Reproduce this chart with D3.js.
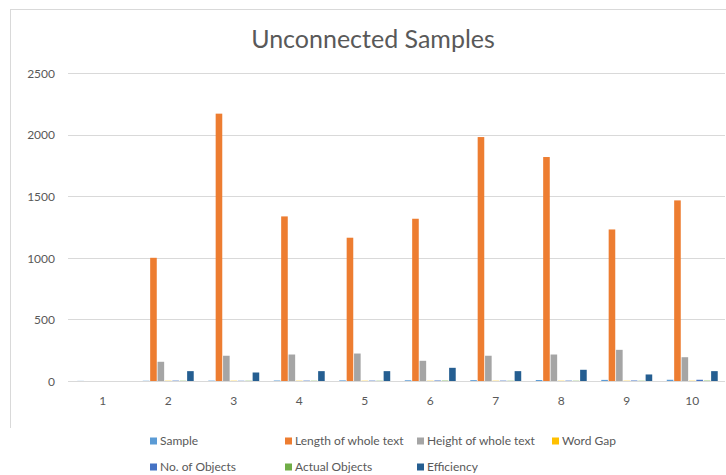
<!DOCTYPE html>
<html>
<head>
<meta charset="utf-8">
<script src="https://cdn.jsdelivr.net/npm/d3@7"></script>
<style>
  html, body { margin: 0; padding: 0; background: #fff; }
  svg { display: block; }
  text { font-family: Lato, "Open Sans", sans-serif; fill: #595959; }
</style>
</head>
<body>
<svg id="chart" width="726" height="475"></svg>
<script>
const categories = ["1","2","3","4","5","6","7","8","9","10"];
const seriesNames = ["Sample","Length of whole text","Height of whole text","Word Gap","No. of Objects","Actual Objects","Efficiency"];
const sample        = [1, 2, 3, 4, 5, 6, 7, 8, 9, 10];
const lengthWhole   = [0, 1000, 2170, 1336, 1163, 1317, 1980, 1818, 1230, 1466];
const heightWhole   = [0, 156, 205, 215, 223, 164, 205, 215, 253, 193];
const wordGap       = [0, 2, 2, 2, 2, 2, 2, 2, 2, 2];
const noObjects     = [0, 3, 2, 3, 3, 4, 3, 3, 4, 10];
const actualObjects = [0, 2, 2, 2, 2, 3, 2, 2, 2, 3];
const efficiency    = [0, 80, 69, 80, 80, 107, 80, 91, 53, 80];
const yTicks = [0, 500, 1000, 1500, 2000, 2500];
const colors = ["#5B9BD5","#ED7D31","#A5A5A5","#FFC000","#4472C4","#70AD47","#255E91"];

const seriesValues = [sample, lengthWhole, heightWhole, wordGap, noObjects, actualObjects, efficiency];

const svg = d3.select("#chart");

// chart border (top and left edges visible)
svg.append("line").attr("x1", 10.5).attr("x2", 10.5).attr("y1", 9).attr("y2", 428)
  .attr("stroke", "#d9d9d9").attr("stroke-width", 1);
svg.append("line").attr("x1", 10).attr("x2", 726).attr("y1", 9.5).attr("y2", 9.5)
  .attr("stroke", "#d9d9d9").attr("stroke-width", 1);

// title
svg.append("text").attr("x", 373).attr("y", 48).attr("text-anchor", "middle")
  .style("font-size", "25px").text("Unconnected Samples");

const x0 = d3.scaleBand().domain(categories).range([70, 725]).paddingInner(0.21).paddingOuter(0.105);
const x1 = d3.scaleBand().domain(seriesNames).range([0, x0.bandwidth()]).padding(0);
const y = d3.scaleLinear().domain([0, 2500]).range([381, 73]);

// gridlines
const gy = svg.append("g").attr("transform", "translate(68,0)");
gy.selectAll("line.grid").data(yTicks).enter().append("line")
  .attr("x1", 0).attr("x2", 725 - 68)
  .attr("y1", d => Math.round(y(d)) + 0.5).attr("y2", d => Math.round(y(d)) + 0.5)
  .attr("stroke", "#d9d9d9").attr("stroke-width", 1);
const yAxis = d3.axisLeft(y).tickValues(yTicks).tickFormat(d3.format("d")).tickSize(0).tickPadding(0);
const ga = svg.append("g").attr("transform", "translate(55,0)").call(yAxis);
ga.select(".domain").remove();
ga.selectAll("text").style("font-size", "12px").style("fill", "#595959")
  .style("font-family", "Lato, sans-serif").attr("dy", "0.35em");

// bars
const groups = svg.append("g").selectAll("g").data(categories).enter().append("g")
  .attr("transform", d => `translate(${x0(d)},0)`);
groups.selectAll("rect").data((c, i) => seriesNames.map((s, k) => ({s, k, v: seriesValues[k][i]})))
  .enter().append("rect")
  .attr("x", d => x1(d.s) + 0.4)
  .attr("width", x1.bandwidth() - 0.8)
  .attr("y", d => y(d.v))
  .attr("height", d => y(0) - y(d.v))
  .attr("fill", d => colors[d.k]);

// x axis labels
const xAxis = d3.axisBottom(x0).tickSize(0).tickPadding(0);
const gx = svg.append("g").attr("transform", "translate(0,396)").call(xAxis);
gx.select(".domain").remove();
gx.selectAll("text").style("font-size", "12px").style("fill", "#595959")
  .style("font-family", "Lato, sans-serif");

// legend
const legendPos = [
  {x: 150, y: 441}, {x: 285, y: 441}, {x: 417, y: 441}, {x: 552, y: 441},
  {x: 150, y: 467}, {x: 285, y: 467}, {x: 417, y: 467}
];
const lg = svg.append("g").selectAll("g").data(seriesNames).enter().append("g")
  .attr("transform", (d, i) => `translate(${legendPos[i].x},${legendPos[i].y})`);
lg.append("rect").attr("x", 0).attr("y", -3.5).attr("width", 7).attr("height", 7)
  .attr("fill", (d, i) => colors[i]);
lg.append("text").attr("x", 10).attr("y", 0).attr("dy", "0.35em")
  .style("font-size", "12px").text(d => d);
</script>
</body>
</html>
